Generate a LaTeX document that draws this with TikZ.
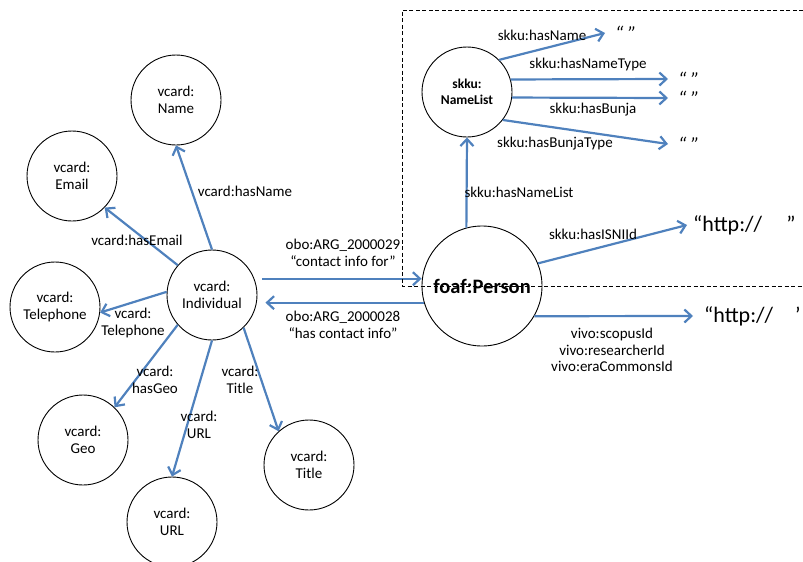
\documentclass[tikz,border=0pt]{standalone}
\usepackage{fontspec}
\setmainfont{Carlito}
\usetikzlibrary{arrows.meta}
\definecolor{linkblue}{RGB}{79,129,189}

\begin{document}
\begin{tikzpicture}[x=1pt,y=-1pt,>={Straight Barb[length=7pt,width=13pt]},
cls/.style={circle,draw,fill=white,line width=0.9pt,minimum size=90pt,inner sep=0pt,align=center,font=\fontsize{15}{16.5}\selectfont},
hub/.style={cls,minimum size=120pt,font=\fontsize{20.5}{23}\selectfont\bfseries},
lst/.style={cls,font=\fontsize{13.5}{16}\selectfont\bfseries},
rel/.style={->,draw=linkblue,line width=2.2pt},
lbl/.style={align=center,inner sep=1pt,font=\fontsize{15}{16.8}\selectfont},
lit/.style={anchor=west,inner xsep=10pt,inner ysep=1pt,font=\fontsize{20}{22}\selectfont\itshape},
uri/.style={anchor=west,inner xsep=6pt,inner ysep=1pt,font=\fontsize{22}{26}\selectfont},
frame/.style={draw,line width=0.7pt,dash pattern=on 4pt off 2.5pt}]
\useasboundingbox (0,0) rectangle (803,562);
% classes
\node[cls] (name) at (176,100) {vcard:\\Name};
\node[cls] (email) at (72,176) {vcard:\\Email};
\node[cls] (indiv) at (212,295) {vcard:\\Individual};
\node[cls] (tel) at (55,307) {vcard:\\Telephone};
\node[cls] (geo) at (83,440) {vcard:\\Geo};
\node[cls] (url) at (172,522) {vcard:\\URL};
\node[cls] (title) at (309,465) {vcard:\\Title};
\node[hub] (person) at (482,286) {foaf:Person};
\node[lst] (nlist) at (467,92) {skku:\\NameList};
% literals
\node[lit] (qName) at (605,33) {“ ”};
\node[lit] (qType) at (668,79) {“ ”};
\node[lit] (qBunja) at (668,98) {“ ”};
\node[lit] (qBType) at (668,144) {“ ”};
\node[uri] (isni) at (687,225) {“http://\hspace{1.1em}”};
\node[uri,inner xsep=11pt] (scopus) at (693,316) {“http://\hspace{1em}’};
% vcard links
\draw[rel] (indiv.north) -- (name.south);
\draw[rel] (indiv.139) -- (email.-44);
\draw[rel] (indiv.176) -- (tel.-7);
\draw[rel] (indiv.221) -- (geo.46);
\draw[rel] (indiv.south) -- (url.north);
\draw[rel] (indiv.-46) -- (title.132);
\node[lbl] (lName) at (245,191) {vcard:hasName};
\node[lbl] (lEmail) at (137,240) {vcard:hasEmail};
\node[lbl] (lTel) at (133,323) {vcard:\\Telephone};
\node[lbl] (lGeo) at (155,380) {vcard:\\hasGeo};
\node[lbl] (lUrl) at (199,425) {vcard:\\URL};
\node[lbl] (lTitle) at (240,380) {vcard:\\Title};
% contact info
\draw[rel,shorten <=8pt] (indiv.21) -- (indiv.21 -| person.west);
\draw[rel,shorten >=8pt] (person.196) -- (person.196 -| indiv.east);
\node[lbl] (lFor) at (343,253) {obo:ARG\_2000029\\“contact info for”};
\node[lbl] (lHas) at (343,325) {obo:ARG\_2000028\\“has contact info”};
% person links
\draw[rel] (person.105) -- (nlist.south);
\draw[rel] (person.22) -- (isni.west);
\draw[rel] (person.-30) -- (scopus.west);
\node[lbl] (lList) at (519,192) {skku:hasNameList};
\node[lbl] (lIsni) at (593,234) {skku:hasISNIId};
\node[lbl] (lVivo) at (612,350) {vivo:scopusId\\vivo:researcherId\\vivo:eraCommonsId};
% name list links
\draw[rel] (nlist.45) -- (qName.west);
\draw[rel] (nlist.16) -- (qType.west);
\draw[rel] (nlist.-7) -- (qBunja.west);
\draw[rel] (nlist.-38) -- (qBType.west);
\node[lbl] (lHn) at (542,35) {skku:hasName};
\node[lbl] (lHnt) at (588,65) {skku:hasNameType};
\node[lbl] (lHb) at (593,110) {skku:hasBunja};
\node[lbl] (lHbt) at (555,144) {skku:hasBunjaType};
% dashed frame
\draw[frame] (803,10) -- (402,10) -- (402,286) -- (803,286);
\end{tikzpicture}
\end{document}
